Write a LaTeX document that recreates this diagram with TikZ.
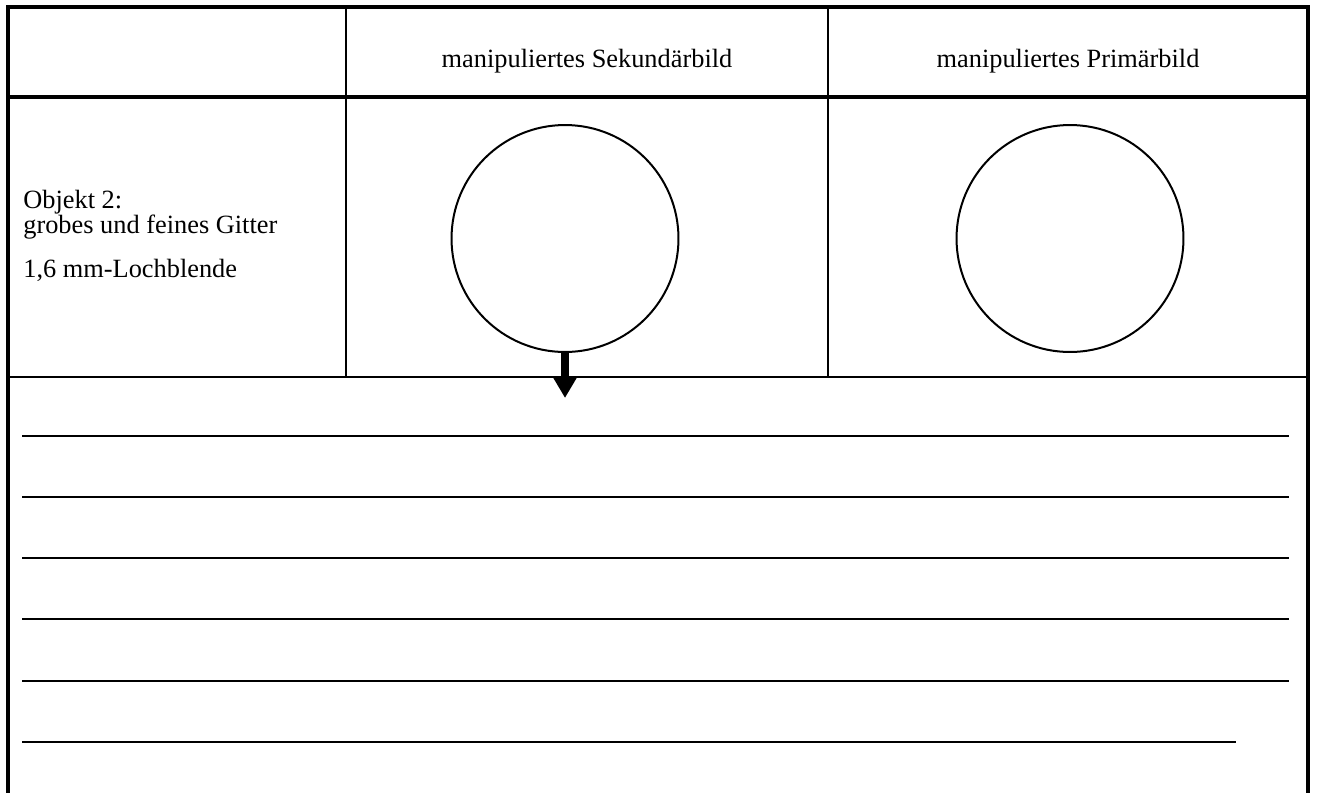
\documentclass[tikz,border=0pt]{standalone}
\usepackage{fontspec}
\setmainfont{Liberation Serif}
\usetikzlibrary{arrows.meta}

\begin{document}
\begin{tikzpicture}[x=0.02cm, y=-0.02cm, font=\fontsize{15}{18}\selectfont,
    rim/.style={black, line width=0.08cm},
    sep/.style={black, line width=0.05cm},
    bild/.style={draw=black, line width=0.04cm, circle, minimum size=4.54cm, inner sep=0pt},
    txt/.style={inner sep=0pt, anchor=base west}]
    \useasboundingbox (0,0) rectangle (1317,792);
    % frame and table lines
    \draw[rim] (8,810) -- (8,7) -- (1308,7) -- (1308,810);
    \draw[rim] (8,97) -- (1308,97);
    \draw[sep] (8,377) -- (1308,377);
    \draw[sep] (346,7) -- (346,377);
    \draw[sep] (828,7) -- (828,377);
    % headers
    \node[inner sep=0pt, anchor=base] (sekkopf) at (587,67) {manipuliertes Sekundärbild};
    \node[inner sep=0pt, anchor=base] (primkopf) at (1068,67) {manipuliertes Primärbild};
    % object column
    \node[txt] (objekt) at (23,208) {Objekt 2:};
    \node[txt] (gitter) at (23,233) {grobes und feines Gitter};
    \node[txt] (blende) at (23,277) {1,6 mm-Lochblende};
    % image circles
    \node[bild] (sek) at (565,238.5) {};
    \node[bild] (prim) at (1070,238.5) {};
    \coordinate (spitze) at (565,398);
    \draw[black, line width=0.16cm, -{Triangle[width=0.48cm, length=0.44cm]}] (sek.south) -- (spitze);
    % writing lines
    \foreach \y in {436,497,558,619,681} {
        \draw[black, line width=0.03cm] (22,\y) -- (1289,\y);
    }
    \draw[black, line width=0.03cm] (22,742) -- (1236,742);
\end{tikzpicture}
\end{document}
